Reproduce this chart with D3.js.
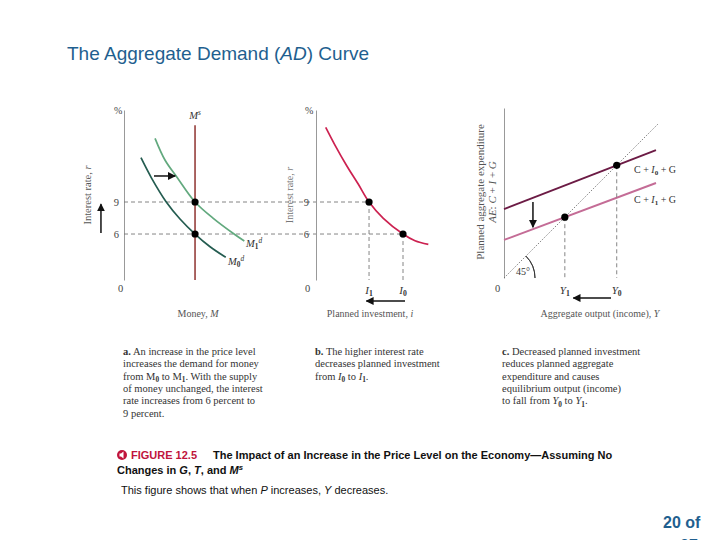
<!DOCTYPE html>
<html><head><meta charset="utf-8">
<script src="https://cdn.jsdelivr.net/npm/d3@7"></script>
<style>body{margin:0;background:#fff}svg{display:block}</style>
</head><body>
<svg id="c" width="720" height="540"></svg>
<script>
// ---------- data ----------
const rateTicks = [6, 9];
// Panel a: money demand curves (money units, interest rate %)
const md0 = [[1.06,13.15],[1.73,11.22],[2.63,9.03],[3.5,7.41],[4.44,6],[5.38,4.81],[6.36,3.82]];
const md1 = [[1.94,14.97],[2.56,12.94],[3.29,11.37],[4.44,9],[5.58,7.47],[6.88,6],[7.52,5.34]];
const moneySupply = 4.44;
const moneySupplyTop = 16.2;
const moneyEq = [[4.44,9],[4.44,6]];
// Panel b: planned investment curve
const invest = [[0.81,16.0],[1.58,14.34],[2.56,12.4],[3.53,10.66],[4.42,9.0],[5.61,7.47],[7.25,6],[8.25,5.37],[9.36,5.03]];
const investEq = [{lab:"1", i:4.42, r:9},{lab:"0", i:7.25, r:6}];
// Panel c: planned aggregate expenditure lines (output, expenditure)
const ae0 = [[0,4.48],[9.87,8.31]];
const ae1 = [[0,2.47],[9.87,6.17]];
const diag = [[0,0],[10,10]];
const outEq = [{lab:"1", y:3.95},{lab:"0", y:7.32}];

// ---------- setup ----------
const svg = d3.select("#c");
const SERIF = "'Liberation Serif','DejaVu Serif',serif";
const SANS = "'Liberation Sans',Arial,sans-serif";
const GRAY = "#555";

const defs = svg.append("defs");
defs.append("marker").attr("id","ah").attr("viewBox","0 0 10 10").attr("refX",9).attr("refY",5)
  .attr("markerWidth",8).attr("markerHeight",8).attr("markerUnits","userSpaceOnUse").attr("orient","auto")
  .append("path").attr("d","M0,0L10,5L0,10Z").attr("fill","#111");

function rich(sel, x, y, parts, fs, attrs) {
  const t = sel.append("text").attr("x", x).attr("y", y).attr("font-size", fs);
  Object.entries(attrs || {}).forEach(([k,v]) => t.attr(k, v));
  let shift = 0;
  parts.forEach(p => {
    const [str, st] = Array.isArray(p) ? p : [p, ""];
    const s = st || "";
    let target = 0, size = null;
    if (s.includes("sub")) { target = 0.22*fs; size = fs*0.7; }
    if (s.includes("sup")) { target = -0.4*fs; size = fs*0.7; }
    const ts = t.append("tspan").text(str);
    if (target - shift !== 0) ts.attr("dy", target - shift);
    shift = target;
    if (size) ts.attr("font-size", size);
    if (s.includes("i")) ts.attr("font-style", "italic");
    if (s.includes("b")) ts.attr("font-weight", "bold");
  });
  return t;
}

// ---------- title ----------
rich(svg, 67, 60, ["The Aggregate Demand (", ["AD","i"], ") Curve"], 19, {"font-family":SANS, fill:"#1f5f8f"});

// ---------- scales ----------
const rateY = d3.scaleLinear().domain([1.69, 17.625]).range([280, 110]);
const xA = d3.scaleLinear().domain([0, 10]).range([124, 284]);
const xB = d3.scaleLinear().domain([0, 10]).range([316, 436]);
const xC = d3.scaleLinear().domain([0, 10]).range([504, 658]);
const yC = d3.scaleLinear().domain([0, 11.04]).range([278, 108]);

function styleAxis(g) {
  g.select(".domain").attr("stroke", "#999").attr("stroke-width", 1);
  g.selectAll("text").attr("font-family", SERIF).attr("font-size", 10.5).attr("fill", "#444");
}

const dash = "4,3";

// ---------- panel a ----------
const gA = svg.append("g");
gA.append("g").attr("transform", `translate(${xA(0)},0)`)
  .call(d3.axisLeft(rateY).tickValues(rateTicks).tickSize(0).tickPadding(5).tickSizeOuter(0)).call(styleAxis);
gA.append("line").attr("x1", xA(0)).attr("x2", xB(investEq[0].i)).attr("y1", rateY(9)).attr("y2", rateY(9))
  .attr("stroke","#777").attr("stroke-dasharray",dash).attr("stroke-width",0.9);
gA.append("line").attr("x1", xA(0)).attr("x2", xB(investEq[1].i)).attr("y1", rateY(6)).attr("y2", rateY(6))
  .attr("stroke","#777").attr("stroke-dasharray",dash).attr("stroke-width",0.9);

const lineA = d3.line().x(d => xA(d[0])).y(d => rateY(d[1])).curve(d3.curveCatmullRom);
gA.append("path").attr("d", lineA(md0)).attr("fill","none").attr("stroke","#245c50").attr("stroke-width",1.7);
gA.append("path").attr("d", lineA(md1)).attr("fill","none").attr("stroke","#62a97e").attr("stroke-width",1.7);
gA.append("line").attr("x1", xA(moneySupply)).attr("x2", xA(moneySupply))
  .attr("y1", rateY(moneySupplyTop)).attr("y2", rateY(1.69)).attr("stroke","#9c4a48").attr("stroke-width",1.7);
gA.selectAll("circle").data(moneyEq).join("circle").attr("cx", d => xA(d[0])).attr("cy", d => rateY(d[1])).attr("r",3.6).attr("fill","#000");

rich(gA, xA(moneySupply), 119, [["M","i"],["s","sup i"]], 10.5, {"font-family":SERIF, fill:"#333", "text-anchor":"middle"});
rich(gA, 246, 247, [["M","i"],["1","sub"],["d","sup i"]], 10.5, {"font-family":SERIF, fill:"#333"});
rich(gA, 228, 265, [["M","i"],["0","sub"],["d","sup i"]], 10.5, {"font-family":SERIF, fill:"#333"});
gA.append("text").attr("x", 114).attr("y", 114).text("%").attr("font-family",SERIF).attr("font-size",10).attr("fill","#444");
gA.append("text").attr("x", 118).attr("y", 292).text("0").attr("font-family",SERIF).attr("font-size",10.5).attr("fill","#444");
rich(gA, 0, 0, ["Interest rate, ", ["r","i"]], 10.5, {"font-family":SERIF, fill:GRAY, "text-anchor":"middle", transform:"translate(91,195) rotate(-90)"});
rich(gA, 198, 317, ["Money, ", ["M","i"]], 10, {"font-family":SERIF, fill:GRAY, "text-anchor":"middle"});
gA.append("line").attr("x1", xA(1.875)).attr("x2", xA(3.2)).attr("y1", rateY(11.44)).attr("y2", rateY(11.44))
  .attr("stroke","#111").attr("stroke-width",1.5).attr("marker-end","url(#ah)");
gA.append("line").attr("x1", xA(-1.44)).attr("x2", xA(-1.44)).attr("y1", rateY(6.09)).attr("y2", rateY(8.8))
  .attr("stroke","#111").attr("stroke-width",1.5).attr("marker-end","url(#ah)");

// ---------- panel b ----------
const gB = svg.append("g");
gB.append("g").attr("transform", `translate(${xB(0)},0)`)
  .call(d3.axisLeft(rateY).tickValues(rateTicks).tickSize(0).tickPadding(7).tickSizeOuter(0)).call(styleAxis);
const lineB = d3.line().x(d => xB(d[0])).y(d => rateY(d[1])).curve(d3.curveCatmullRom);
gB.append("path").attr("d", lineB(invest)).attr("fill","none").attr("stroke","#cc2150").attr("stroke-width",1.7);
gB.selectAll("line.v").data(investEq).join("line").attr("class","v")
  .attr("x1", d => xB(d.i)).attr("x2", d => xB(d.i)).attr("y1", d => rateY(d.r)).attr("y2", rateY(1.69))
  .attr("stroke","#777").attr("stroke-dasharray",dash).attr("stroke-width",0.9);
gB.selectAll("circle").data(investEq).join("circle").attr("cx", d => xB(d.i)).attr("cy", d => rateY(d.r)).attr("r",3.6).attr("fill","#000");
investEq.forEach(d => rich(gB, xB(d.i), 294, [["I","i"],[d.lab,"sub"]], 11, {"font-family":SERIF, fill:"#333", "text-anchor":"middle"}));
gB.append("text").attr("x", 305).attr("y", 114).text("%").attr("font-family",SERIF).attr("font-size",10).attr("fill","#444");
gB.append("text").attr("x", 305).attr("y", 292).text("0").attr("font-family",SERIF).attr("font-size",10.5).attr("fill","#444");
rich(gB, 0, 0, ["Interest rate, ", ["r","i"]], 10, {"font-family":SERIF, fill:"#777", "text-anchor":"middle", transform:"translate(293,195) rotate(-90)"});
rich(gB, 370, 317, ["Planned investment, ", ["i","i"]], 10, {"font-family":SERIF, fill:GRAY, "text-anchor":"middle"});
gB.append("line").attr("x1", xB(7.42)).attr("x2", xB(4.2)).attr("y1", rateY(-0.28)).attr("y2", rateY(-0.28))
  .attr("stroke","#111").attr("stroke-width",1.5).attr("marker-end","url(#ah)");

// ---------- panel c ----------
const gC = svg.append("g");
gC.append("g").attr("transform", `translate(${xC(0)},0)`)
  .call(d3.axisLeft(yC).tickValues([]).tickSize(0).tickSizeOuter(0)).call(styleAxis);
const lineC = d3.line().x(d => xC(d[0])).y(d => yC(d[1]));
gC.append("path").attr("d", lineC(diag)).attr("fill","none").attr("stroke","#666").attr("stroke-width",0.8).attr("stroke-dasharray","1.5,1.5");
gC.append("path").attr("d", lineC(ae0)).attr("fill","none").attr("stroke","#6c1b45").attr("stroke-width",1.9);
gC.append("path").attr("d", lineC(ae1)).attr("fill","none").attr("stroke","#c46c96").attr("stroke-width",1.9);
gC.selectAll("line.v").data(outEq).join("line").attr("class","v")
  .attr("x1", d => xC(d.y)).attr("x2", d => xC(d.y)).attr("y1", d => yC(d.y)).attr("y2", yC(0))
  .attr("stroke","#777").attr("stroke-dasharray",dash).attr("stroke-width",0.9);
gC.selectAll("circle").data(outEq).join("circle").attr("cx", d => xC(d.y)).attr("cy", d => yC(d.y)).attr("r",3.6).attr("fill","#000");
outEq.forEach(d => rich(gC, xC(d.y), 294, [["Y","i"],[d.lab,"sub"]], 11, {"font-family":SERIF, fill:"#333", "text-anchor":"middle"}));
const arc = d3.arc().innerRadius(31).outerRadius(31).startAngle(Math.PI/4).endAngle(Math.PI/2);
gC.append("path").attr("d", arc()).attr("transform", `translate(${xC(0)},${yC(0)})`).attr("fill","none").attr("stroke","#333").attr("stroke-width",0.9);
gC.append("text").attr("x", 516).attr("y", 275).text("45°").attr("font-family",SERIF).attr("font-size",10).attr("fill","#333");
gC.append("text").attr("x", 495).attr("y", 292).text("0").attr("font-family",SERIF).attr("font-size",10.5).attr("fill","#444");
rich(gC, 634, 173, ["C + ",["I","i"],["0","sub"]," + G"], 10, {"font-family":SERIF, fill:"#333"});
rich(gC, 634, 203, ["C + ",["I","i"],["1","sub"]," + G"], 10, {"font-family":SERIF, fill:"#333"});
rich(gC, 0, 0, ["Planned aggregate expenditure"], 11, {"font-family":SERIF, fill:GRAY, "text-anchor":"middle", transform:"translate(484,192) rotate(-90)"});
rich(gC, 0, 0, [["AE","i"],": ",["C","i"]," + ",["I","i"]," + ",["G","i"]], 11, {"font-family":SERIF, fill:GRAY, "text-anchor":"middle", transform:"translate(496,192) rotate(-90)"});
rich(gC, 600, 317, ["Aggregate output (income), ", ["Y","i"]], 10, {"font-family":SERIF, fill:GRAY, "text-anchor":"middle"});
gC.append("line").attr("x1", xC(1.88)).attr("x2", xC(1.88)).attr("y1", yC(4.94)).attr("y2", yC(3.3))
  .attr("stroke","#111").attr("stroke-width",1.5).attr("marker-end","url(#ah)");
gC.append("line").attr("x1", xC(6.95)).attr("x2", xC(4.5)).attr("y1", yC(-1.3)).attr("y2", yC(-1.3))
  .attr("stroke","#111").attr("stroke-width",1.5).attr("marker-end","url(#ah)");

// ---------- panel captions ----------
const capA = [
  [["a.","b"]," An increase in the price level"],
  ["increases the demand for money"],
  ["from M",["0","sub"]," to M",["1","sub"],". With the supply"],
  ["of money unchanged, the interest"],
  ["rate increases from 6 percent to"],
  ["9 percent."]
];
const capB = [
  [["b.","b"]," The higher interest rate"],
  ["decreases planned investment"],
  ["from ",["I","i"],["0","sub"]," to ",["I","i"],["1","sub"],"."]
];
const capC = [
  [["c.","b"]," Decreased planned investment"],
  ["reduces planned aggregate"],
  ["expenditure and causes"],
  ["equilibrium output (income)"],
  ["to fall from ",["Y","i"],["0","sub"]," to ",["Y","i"],["1","sub"],"."]
];
[[capA,123],[capB,315],[capC,502]].forEach(([lines,x]) => {
  lines.forEach((parts,i) => rich(svg, x, 355 + i*12.3, parts, 10.5, {"font-family":SERIF, fill:"#333"}));
});

// ---------- figure caption ----------
const icon = svg.append("g").attr("transform","translate(122,455)");
icon.append("circle").attr("r",5).attr("fill","#c0143c");
icon.append("path").attr("d","M-2.5,-1.5L-1,-1.5L1.5,-3.5L1.5,3.5L-1,1.5L-2.5,1.5Z").attr("fill","#fff");
rich(svg, 131, 459, [["FIGURE 12.5","b"]], 11, {"font-family":SANS, fill:"#c0143c"});
rich(svg, 213, 459, [["The Impact of an Increase in the Price Level on the Economy—Assuming No","b"]], 11, {"font-family":SANS, fill:"#111"});
rich(svg, 117, 474, [["Changes in ","b"],["G","b i"],[", ","b"],["T","b i"],[", and ","b"],["M","b i"],["s","b i sup"]], 11, {"font-family":SANS, fill:"#111"});
rich(svg, 121, 494, ["This figure shows that when ",["P","i"]," increases, ",["Y","i"]," decreases."], 11, {"font-family":SANS, fill:"#111"});

svg.append("text").attr("x", 663).attr("y", 528).text("20 of").attr("font-family",SANS).attr("font-weight","bold").attr("font-size",16).attr("fill","#1f5f8f");
svg.append("text").attr("x", 680).attr("y", 551).text("27").attr("font-family",SANS).attr("font-weight","bold").attr("font-size",16).attr("fill","#1f5f8f");
</script>
</body></html>
